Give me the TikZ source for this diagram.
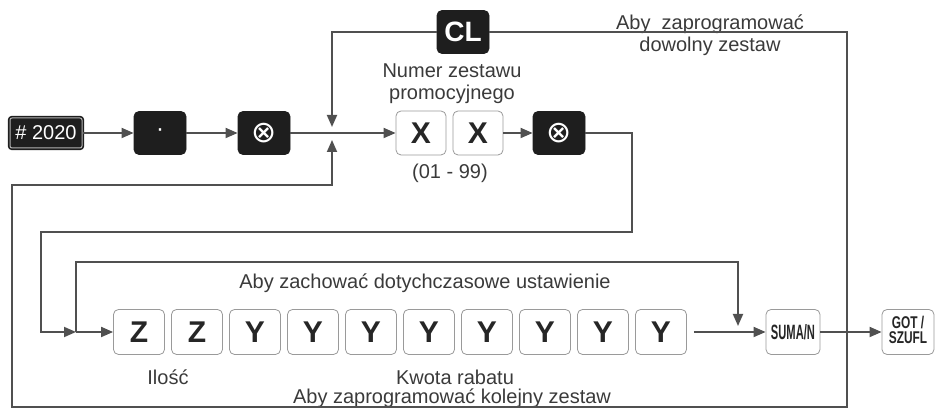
\documentclass[tikz,border=0pt]{standalone}
\usepackage{fontspec}
\setmainfont{Liberation Sans}
\newfontfamily\symfont{DejaVu Sans}
\usepackage{tikz}
\usetikzlibrary{arrows.meta,positioning,calc}
\definecolor{keydark}{HTML}{1E1E1E}
\definecolor{keyedge}{HTML}{9A9A9A}
\definecolor{linegray}{HTML}{505050}
\definecolor{textgray}{HTML}{3A3A3A}

\begin{document}
\begin{tikzpicture}[x=0.5pt, y=-0.5pt,
      darkkey/.style={fill=keydark, draw=keydark, rounded corners=2.5pt, minimum width=26pt, minimum height=21.5pt, inner sep=0pt, text=white},
      key/.style={draw=keyedge, fill=white, rounded corners=2.5pt, minimum width=25.5pt, minimum height=22.5pt, inner sep=0pt, text=black!85, font=\fontsize{15}{15}\selectfont\bfseries},
      line/.style={draw=linegray, line width=0.9pt},
      arr/.style={line, -{Triangle[length=6pt,width=5pt]}},
      lbl/.style={text=textgray, align=center, inner sep=0pt, font=\fontsize{10}{11}\selectfont}
    ]
    \useasboundingbox (0,0) rectangle (939,410);

    % top row
    \node[darkkey, minimum width=36pt, minimum height=15pt, rounded corners=1pt, double=gray!60, double distance=0.5pt, line width=0.8pt, font=\fontsize{10}{10}\selectfont] (k2020) at (46,133) {\# 2020};
    \node[darkkey, font=\fontsize{12}{12}\selectfont] (kdot) at (160,133) {·};
    \node[darkkey, font=\fontsize{15}{15}\symfont] (kot1) at (264,133) {⊗};
    \node[key, minimum width=25pt, minimum height=22pt] (kx1) at (421,133) {X};
    \node[key, minimum width=25pt, minimum height=22pt] (kx2) at (478,133) {X};
    \node[darkkey, font=\fontsize{15}{15}\symfont] (kot2) at (559,133) {⊗};
    \node[darkkey, font=\fontsize{14}{14}\selectfont\bfseries] (kcl) at (463,32) {CL};

    \coordinate (j1top) at (332,127);
    \coordinate (j1bot) at (332,140);

    % bottom row
    \node[key] (z1) at (139,332) {Z};
    \node[key] (z2) at (197,332) {Z};
    \node[key] (y1) at (255,332) {Y};
    \node[key] (y2) at (313,332) {Y};
    \node[key] (y3) at (371,332) {Y};
    \node[key] (y4) at (429,332) {Y};
    \node[key] (y5) at (487,332) {Y};
    \node[key] (y6) at (545,332) {Y};
    \node[key] (y7) at (603,332) {Y};
    \node[key] (y8) at (661,332) {Y};
    \node[key, minimum width=27pt, font=\bfseries] (ksuma) at (793,332) {\scalebox{0.62}[1.15]{\fontsize{9}{9}\selectfont SUMA/N}};
    \node[key, minimum width=26pt, font=\bfseries] (kgot) at (908,332) {\scalebox{0.7}[1]{\fontsize{8.5}{8.5}\selectfont\begin{tabular}{@{}c@{}}GOT /\\[-1pt]SZUFL\end{tabular}}};

    \coordinate (j2) at (76,332);
    \coordinate (j3top) at (738,326);
    \coordinate (cross) at (847,332);

    % labels
    \node[lbl] (lnumer) at (452,84) {Numer zestawu\\promocyjnego};
    \node[lbl] (lrange) at (450,173) {(01 - 99)};
    \node[lbl] (ldowolny) at (710,35) {Aby~ zaprogramować\\dowolny zestaw};
    \node[lbl] (lzach) at (425,283) {Aby zachować dotychczasowe ustawienie};
    \node[lbl] (lilosc) at (168,377) {Ilość};
    \node[lbl] (lkwota) at (455,377) {Kwota rabatu};
    \node[lbl] (lkolejny) at (452,398) {Aby zaprogramować kolejny zestaw};

    % connectors
    \draw[arr] (k2020) -- (kdot);
    \draw[arr] (kdot) -- (kot1);
    \draw[arr] (kot1) -- (kx1);
    \draw[arr] (kx2) -- (kot2);
    \draw[arr] (kcl) -| (j1top);
    \draw[arr] (cross) -- (847,407) -| (12,185) -| (j1bot);
    \draw[line] (cross) |- (kcl);
    \draw[arr] (kot2) -- (632,133) |- (41,232) |- (j2);
    \draw[arr] (j2) -- (z1);
    \draw[arr] (j2) |- (738,262) -- (j3top);
    \draw[arr, shorten <=3.5pt] (y8) -- (ksuma);
    \draw[arr] (ksuma) -- (kgot);
  \end{tikzpicture}
\end{document}
